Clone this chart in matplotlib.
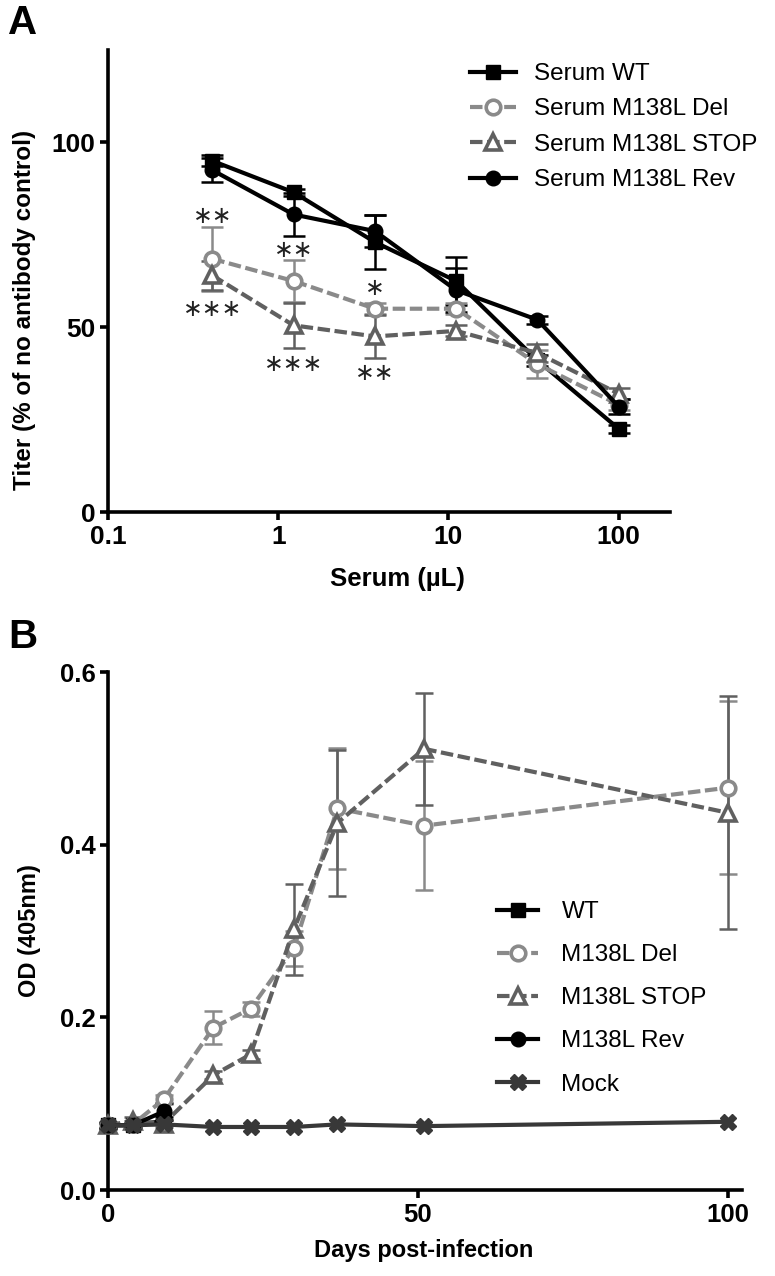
import matplotlib
matplotlib.use('Agg')
import matplotlib.pyplot as plt
from matplotlib.ticker import FixedLocator, NullLocator

plt.rcParams['font.family'] = ['Liberation Sans', 'DejaVu Sans']

# ---------------- Panel A data ----------------
serum_ul = [0.41, 1.23, 3.7, 11.1, 33.3, 100]
a_wt = [95, 86.5, 73, 62.5, 41, 22.5]
a_wt_err = [1.5, 1.0, 7.3, 6.4, 1.5, 1.0]
a_del = [68.5, 62.5, 55, 55, 40, 29]
a_del_err = [8.6, 5.6, 1.5, 1.5, 3.8, 1.5]
a_stop = [64, 50.5, 47.5, 49, 43, 32]
a_stop_err = [4.0, 6.0, 5.8, 1.5, 2.5, 1.5]
a_rev = [92.5, 80.5, 76, 60, 52, 28.5]
a_rev_err = [3.2, 5.8, 4.4, 6.0, 1.0, 2.0]
a_labels = ['Serum WT', 'Serum M138L Del', 'Serum M138L STOP', 'Serum M138L Rev']
a_xticks = [0.1, 1, 10, 100]
a_xticklabels = ['0.1', '1', '10', '100']
a_yticks = [0, 50, 100]
sig_upper = ['**', '**', '*']
sig_upper_y = [80, 71, 60.5]
sig_lower = ['***', '***', '**']
sig_lower_y = [55, 40, 37.5]

# ---------------- Panel B data ----------------
days = [0, 4, 9, 17, 23, 30, 37, 51, 100]
b_del = [0.075, 0.076, 0.105, 0.188, 0.21, 0.28, 0.442, 0.422, 0.466]
b_del_err = [0.004, 0.004, 0.005, 0.019, 0.008, 0.02, 0.07, 0.075, 0.1]
b_stop = [0.075, 0.08, 0.077, 0.133, 0.157, 0.302, 0.425, 0.511, 0.437]
b_stop_err = [0.004, 0.004, 0.004, 0.005, 0.005, 0.053, 0.085, 0.065, 0.135]
days_early = [0, 4, 9]
b_wt = [0.075, 0.075, 0.08]
b_wt_err = [0.003, 0.003, 0.004]
b_rev = [0.075, 0.075, 0.091]
b_rev_err = [0.003, 0.003, 0.01]
b_mock = [0.075, 0.075, 0.076, 0.073, 0.073, 0.073, 0.076, 0.074, 0.079]
b_labels = ['WT', 'M138L Del', 'M138L STOP', 'M138L Rev', 'Mock']
b_xticks = [0, 50, 100]
b_yticks = [0.0, 0.2, 0.4, 0.6]
b_yticklabels = ['0.0', '0.2', '0.4', '0.6']

C_BLACK = '#000000'
C_DEL = '#8a8a8a'
C_STOP = '#606060'
C_MOCK = '#383838'
DASH = (3, 1.1)

fig = plt.figure(figsize=(7.75, 12.76), dpi=100)
W, H = 775, 1276
axA = fig.add_axes([108 / W, 1 - 512 / H, (670 - 108) / W, (512 - 50) / H])
axB = fig.add_axes([108 / W, 1 - 1190 / H, (742 - 108) / W, (1190 - 672) / H])


def style_axes(ax, labelsize):
    for s in ['top', 'right']:
        ax.spines[s].set_visible(False)
    for s in ['left', 'bottom']:
        ax.spines[s].set_linewidth(2.6)
    ax.tick_params(axis='both', which='major', direction='out', length=6,
                   width=2.6, labelsize=labelsize, pad=3)
    for lab in ax.get_xticklabels() + ax.get_yticklabels():
        lab.set_fontweight('bold')


# ---------------- Panel A ----------------
series_a = [
    (a_wt, a_wt_err, C_BLACK, '-', dict(marker='s', ms=9.5, mfc=C_BLACK, mec=C_BLACK)),
    (a_del, a_del_err, C_DEL, '--', dict(marker='o', ms=10.5, mfc='white', mec=C_DEL, mew=2.6)),
    (a_stop, a_stop_err, C_STOP, '--', dict(marker='^', ms=11.5, mfc='white', mec=C_STOP, mew=2.6)),
    (a_rev, a_rev_err, C_BLACK, '-', dict(marker='o', ms=10.5, mfc=C_BLACK, mec=C_BLACK)),
]
for (y, e, c, ls, mk), lab in zip(series_a, a_labels):
    axA.errorbar(serum_ul, y, yerr=e, fmt='none', ecolor=c, elinewidth=1.8,
                 capsize=8, capthick=1.8, zorder=2)
    line, = axA.plot(serum_ul, y, color=c, lw=3, ls=ls, label=lab, zorder=3, **mk)
    if ls == '--':
        line.set_dashes(DASH)

for xv, t, yv in zip(serum_ul[:3], sig_upper, sig_upper_y):
    axA.text(xv, yv, t.replace('*', '\u2217'), ha='center', va='center',
             fontsize=17, family='DejaVu Sans', color='#222222')
for xv, t, yv in zip(serum_ul[:3], sig_lower, sig_lower_y):
    axA.text(xv, yv, t.replace('*', '\u2217'), ha='center', va='center',
             fontsize=17, family='DejaVu Sans', color='#222222')

axA.set_xscale('log')
axA.set_xlim(0.1, 200)
axA.set_ylim(0, 125)
axA.xaxis.set_major_locator(FixedLocator(a_xticks))
axA.xaxis.set_minor_locator(NullLocator())
axA.set_xticks(a_xticks, a_xticklabels)
axA.set_yticks(a_yticks)
style_axes(axA, 19)
axA.set_xlabel('Serum (\u00b5L)', fontsize=18.5, fontweight='bold')
axA.xaxis.set_label_coords((397 - 108) / 562, -(567 - 512) / 462)
axA.set_ylabel('Titer (% of no antibody control)', fontsize=17.5, fontweight='bold')
axA.yaxis.set_label_coords(-(108 - 36) / 562, (512 - 310) / 462)

legA = axA.legend(loc='upper left', bbox_to_anchor=((470 - 108) / 562, (512 - 63) / 462),
                  frameon=False, fontsize=17.5, numpoints=1, handlelength=1.9,
                  handletextpad=0.75, labelspacing=0.55, borderpad=0, borderaxespad=0)

# ---------------- Panel B ----------------
series_b = [
    (days_early, b_wt, b_wt_err, C_BLACK, '-', dict(marker='s', ms=9.5, mfc=C_BLACK, mec=C_BLACK)),
    (days, b_del, b_del_err, C_DEL, '--', dict(marker='o', ms=10.5, mfc='white', mec=C_DEL, mew=2.6)),
    (days, b_stop, b_stop_err, C_STOP, '--', dict(marker='^', ms=11.5, mfc='white', mec=C_STOP, mew=2.6)),
    (days_early, b_rev, b_rev_err, C_BLACK, '-', dict(marker='o', ms=10.5, mfc=C_BLACK, mec=C_BLACK)),
]
for (x, y, e, c, ls, mk), lab in zip(series_b, b_labels[:4]):
    axB.errorbar(x, y, yerr=e, fmt='none', ecolor=c, elinewidth=1.8,
                 capsize=6.5, capthick=1.8, zorder=2, clip_on=False)
    line, = axB.plot(x, y, color=c, lw=3, ls=ls, label=lab, zorder=3, clip_on=False, **mk)
    if ls == '--':
        line.set_dashes(DASH)
axB.plot(days, b_mock, color=C_MOCK, lw=3, ls='-', marker='X', ms=11, mfc=C_MOCK,
         mec=C_MOCK, label=b_labels[4], zorder=4, clip_on=False)

axB.set_xlim(0, 102.3)
axB.set_ylim(0, 0.6)
axB.set_xticks(b_xticks)
axB.set_yticks(b_yticks, b_yticklabels)
style_axes(axB, 18.5)
axB.set_xlabel('Days post-infection', fontsize=17, fontweight='bold')
axB.xaxis.set_label_coords((424 - 108) / 634, -(1239 - 1190) / 518)
axB.set_ylabel('OD (405nm)', fontsize=17, fontweight='bold')
axB.yaxis.set_label_coords(-(108 - 41) / 634, 0.5)

legB = axB.legend(loc='upper left', bbox_to_anchor=((497 - 108) / 634, (1190 - 901) / 518),
                  frameon=False, fontsize=17.5, numpoints=1, handlelength=1.7,
                  handletextpad=0.95, labelspacing=0.87, borderpad=0, borderaxespad=0)

fig.text(8 / W, 1 - 4 / H, 'A', fontsize=29, fontweight='bold', va='top', ha='left')
fig.text(8 / W, 1 - 618 / H, 'B', fontsize=29, fontweight='bold', va='top', ha='left')

fig.savefig('out.png', dpi=100)
